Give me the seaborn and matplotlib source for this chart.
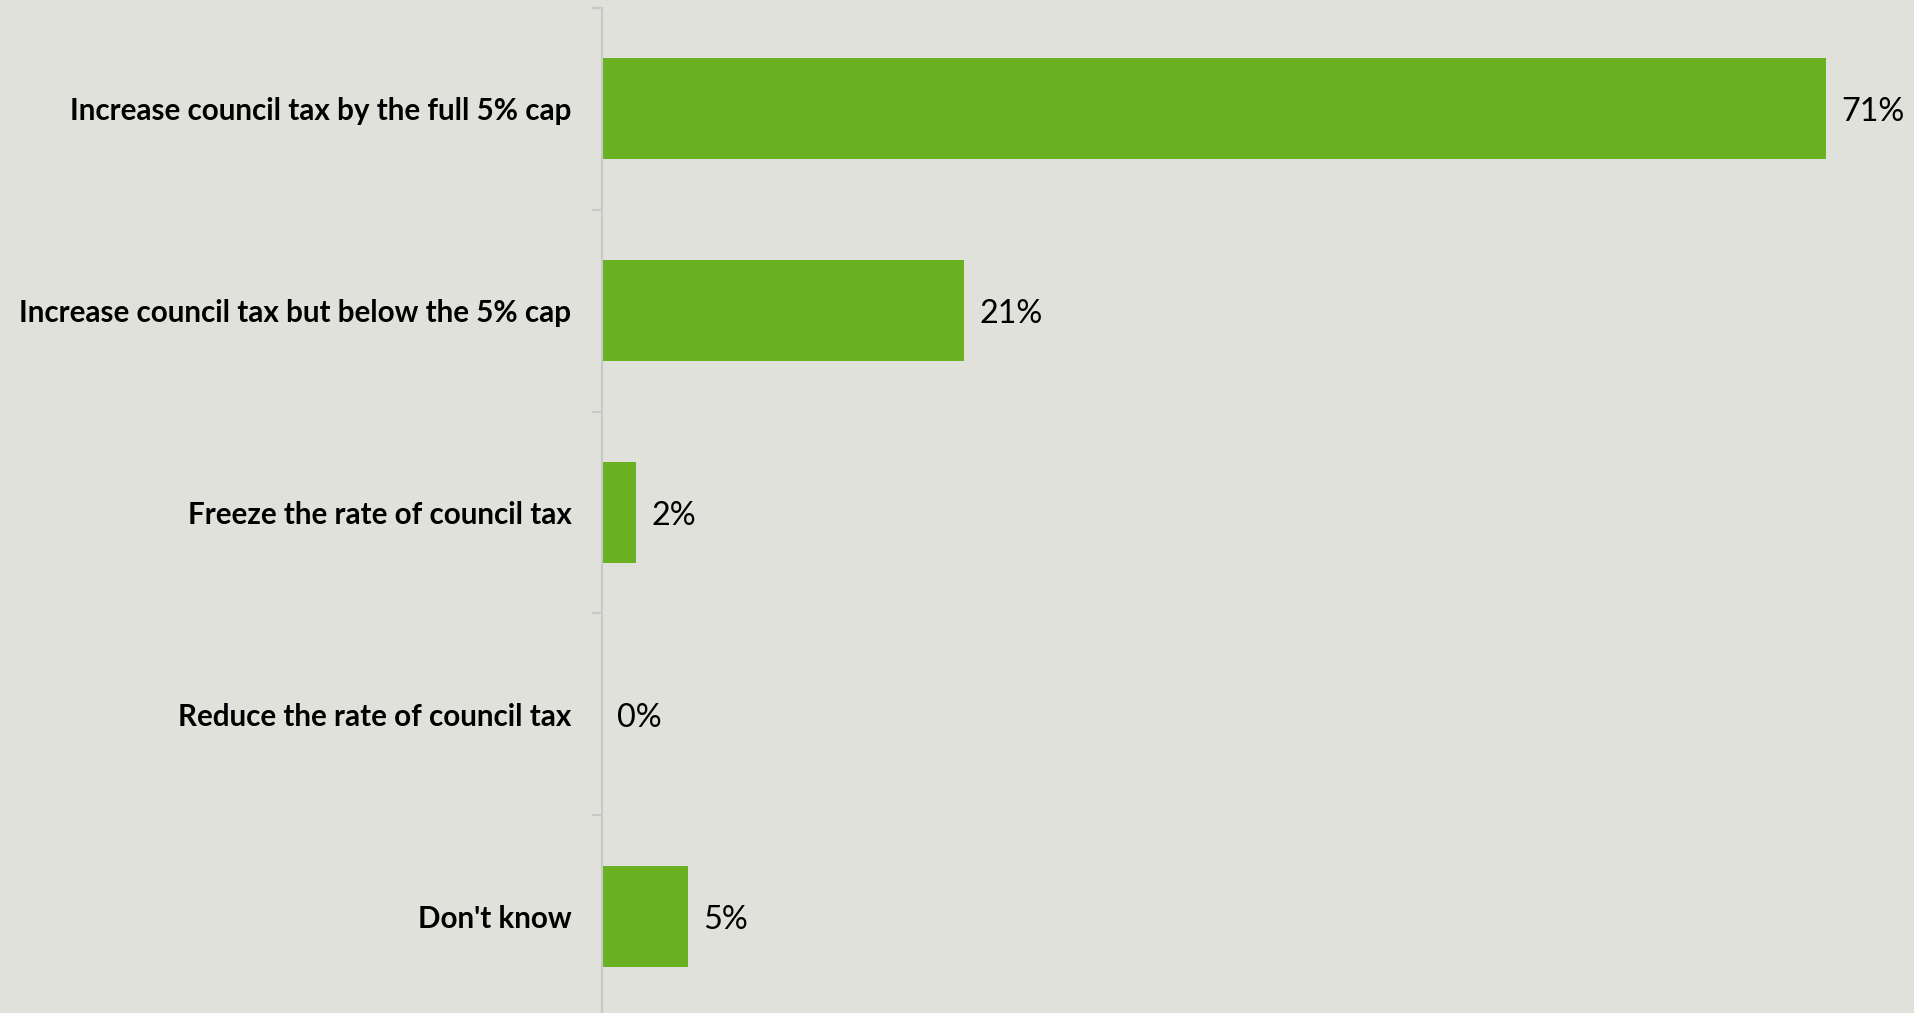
import matplotlib
matplotlib.use("Agg")
import matplotlib.pyplot as plt
import seaborn as sns
import pandas as pd

categories = [
    "Increase council tax by the full 5% cap",
    "Increase council tax but below the 5% cap",
    "Freeze the rate of council tax",
    "Reduce the rate of council tax",
    "Don't know",
]
values = [71, 21, 2, 0, 5]
value_labels = ["71%", "21%", "2%", "0%", "5%"]

BG = "#e0e1da"
GREEN = "#6ab023"

sns.set_theme(style="white")
plt.rcParams["font.family"] = ["Lato", "DejaVu Sans"]

df = pd.DataFrame({"category": categories, "value": values})

W, H = 1914, 1013
fig = plt.figure(figsize=(W / 100, H / 100), dpi=100, facecolor=BG)
ax_left, ax_right = 602, 1914
ax_top, ax_bot = 8, 1017
ax = fig.add_axes([ax_left / W, (H - ax_bot) / H, (ax_right - ax_left) / W, (ax_bot - ax_top) / H])
ax.set_facecolor(BG)

sns.barplot(data=df, x="value", y="category", orient="h", color=GREEN,
            width=0.5, ax=ax, saturation=1, edgecolor="none", linewidth=0)

px_per_unit = (1826 - 602) / 71
ax.set_xlim(0, (ax_right - ax_left) / px_per_unit)
ax.set_ylim(len(categories) - 0.5, -0.5)

for i, (v, lab) in enumerate(zip(values, value_labels)):
    ax.annotate(lab, xy=(v, i), xytext=(11, -2.5), textcoords="offset points",
                va="center", ha="left", fontsize=23.3, color="black", clip_on=False)

for s in ["top", "right", "bottom"]:
    ax.spines[s].set_visible(False)
ax.spines["left"].set_color("#c8c8c8")
ax.spines["left"].set_linewidth(1.5)

ax.set_yticks([i - 0.5 for i in range(len(categories) + 1)], minor=True)
ax.set_yticks(range(len(categories)))
ax.set_yticklabels(categories, fontsize=21.3, fontweight="bold", color="black")
ax.tick_params(axis="y", which="major", length=0, pad=22)
ax.tick_params(axis="y", which="minor", length=7, width=1.5, color="#c8c8c8", left=True)
ax.set_xticks([])
ax.set_xlabel("")
ax.set_ylabel("")

fig.savefig("out.png", dpi=100, facecolor=BG)
